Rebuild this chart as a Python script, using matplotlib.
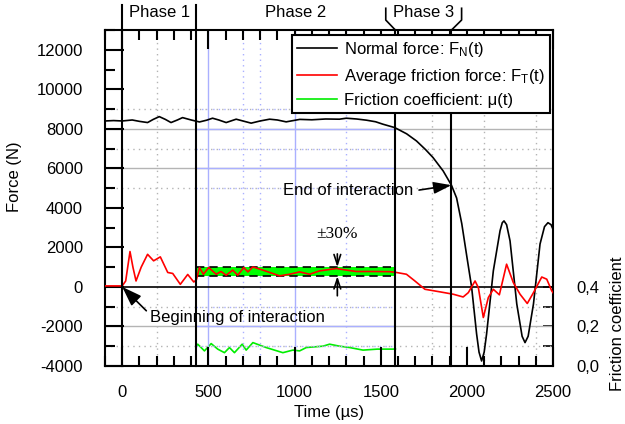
import matplotlib.pyplot as plt
import matplotlib.transforms as mtransforms
from matplotlib.ticker import MultipleLocator, FixedLocator, FuncFormatter

plt.rcParams['font.family'] = ['Liberation Sans', 'DejaVu Sans']
plt.rcParams['font.size'] = 12
plt.rcParams['mathtext.default'] = 'regular'
plt.rcParams['axes.unicode_minus'] = False

# ---- data ----
t_normal = [-100, -50, 0, 58, 100, 147, 180, 215, 250, 283, 320, 350, 400, 448, 490, 524, 560, 603,
            661, 700, 748, 800, 855, 900, 951, 1030, 1100, 1180, 1260, 1300, 1360, 1417, 1470,
            1513, 1581, 1650, 1707, 1760, 1803, 1862, 1910, 1940, 1970, 2000, 2027, 2056, 2070,
            2085, 2100, 2114, 2153, 2192, 2205, 2215, 2230, 2250, 2289, 2320, 2337, 2355, 2386,
            2424, 2450, 2470, 2488, 2500]
f_normal = [8400, 8420, 8400, 8450, 8380, 8320, 8480, 8620, 8480, 8320, 8450, 8570, 8450, 8350, 8440,
            8540, 8450, 8320, 8490, 8400, 8290, 8400, 8490, 8450, 8355, 8480, 8460, 8500, 8490,
            8540, 8500, 8440, 8360, 8235, 8065, 7750, 7390, 6950, 6550, 5870, 5150, 4500, 3200,
            1500, 0, -2380, -3300, -3750, -3300, -2380, 810, 2840, 3250, 3340, 3150, 2330, -860,
            -2500, -2820, -2500, -860, 2170, 3050, 3250, 3150, 2900]

t_fric = [-100, 0, 20, 45, 62, 80, 110, 147, 182, 221, 264, 293, 337, 380, 415, 430, 448, 471, 502,
          545, 573, 603, 641, 670, 705, 729, 758, 816, 913, 971, 1029, 1087, 1145, 1242, 1300, 1358,
          1450, 1552, 1591, 1649, 1698, 1756, 1843, 1920, 1978, 2008, 2047, 2066, 2095, 2124, 2153,
          2188, 2230, 2269, 2308, 2350, 2386, 2434, 2463, 2492, 2500]
f_fric = [50, 50, 300, 1790, 1000, 300, 1000, 1650, 1320, 1520, 730, 680, 130, 630, 250, 350, 980,
          640, 980, 640, 780, 590, 850, 590, 980, 760, 1010, 850, 560, 640, 760, 640, 810, 930, 850,
          780, 780, 771, 730, 640, 300, -120, -250, -370, -510, -290, 300, -30, -1550, -540, -120,
          -400, 1150, 220, -370, -840, -290, 500, 390, -200, -300]

t_mu = [430, 438, 477, 516, 554, 593, 622, 651, 696, 719, 758, 835, 932, 990, 1029, 1068, 1165,
        1203, 1260, 1320, 1397, 1480, 1571, 1585]
mu = [0.10, 0.11, 0.076, 0.113, 0.085, 0.067, 0.093, 0.067, 0.11, 0.08, 0.118, 0.093, 0.067, 0.08,
      0.076, 0.093, 0.10, 0.11, 0.10, 0.093, 0.08, 0.085, 0.085, 0.086]

band_mean = 770
band_tol = 0.30
band_t = [430, 1585]
phase_t = [0, 430, 1585, 1910]
phase_names = ['Phase 1', 'Phase 2', 'Phase 3']

fig = plt.figure(figsize=(6.25, 4.24), dpi=100)
ax = fig.add_axes([0.168, 0.137, 0.717, 0.792])
ax.set_xlim(-100, 2500)
ax.set_ylim(-4000, 13000)

# grid (grey outside phase 2, bluish inside)
grey = '#b4b4b4'
blue = '#aab0ff'
for y in [8000, 6000, -2000]:
    ax.axhline(y, color=grey, lw=1, zorder=0)
    ax.hlines(y, band_t[0], band_t[1], color=blue, lw=1, zorder=0.5)
for y in [9000, 7000, 5000, -1000, -3000]:
    ax.axhline(y, color=grey, lw=1, ls=(0, (1, 3)), zorder=0)
    ax.hlines(y, band_t[0], band_t[1], color=blue, lw=1, ls=(0, (1, 3)), zorder=0.5)
for x in [200, 1800, 2100, 2400]:
    ax.axvline(x, color=grey, lw=1, ls=(0, (1, 3)), zorder=0)
for x in [500, 1000]:
    ax.axvline(x, color=blue, lw=1, zorder=0)
for x in [700, 800, 1300]:
    ax.axvline(x, color=blue, lw=1, ls=(0, (1, 3)), zorder=0)

ax.axhline(0, color='black', lw=1.2, zorder=1)

# +-30% band
lo = band_mean * (1 - band_tol)
hi = band_mean * (1 + band_tol)
ax.fill_between(band_t, [lo, lo], [hi, hi], color='#00ff00', lw=0, zorder=1.5)
ax.hlines([lo, hi], band_t[0], band_t[1], colors='black', lw=1.2, linestyles=(0, (5, 3)), zorder=1.6)

l1, = ax.plot(t_normal, f_normal, color='black', lw=1.2, zorder=3, label='Normal force: F$_{N}$(t)')
l2, = ax.plot(t_fric, f_fric, color='red', lw=1.2, zorder=3, label='Average friction force: F$_{T}$(t)')

# friction coefficient on the right axis
ax2 = ax.twinx()
ax2.set_ylim(0, 1.7)
l3, = ax2.plot(t_mu, mu, color='#00ee00', lw=1.2, label='Friction coefficient: \u03bc(t)')
ax2.yaxis.set_major_locator(FixedLocator([0, 0.2, 0.4]))
ax2.yaxis.set_minor_locator(FixedLocator([0.1, 0.3]))
ax2.yaxis.set_major_formatter(FuncFormatter(lambda v, p: f'{v:.1f}'.replace('.', ',')))
ax2.tick_params(axis='y', which='both', direction='in', length=7, width=1.2, pad=17)
ax2.set_ylabel('Friction coefficient')
ax2.yaxis.set_label_coords(1.127, 0.125)
for s in ax2.spines.values():
    s.set_visible(False)

# phase lines and brackets
trans = mtransforms.blended_transform_factory(ax.transData, ax.transAxes)
for i, x in enumerate(phase_t):
    top = 1.074 if i < 2 else 1.0
    ax.plot([x, x], [0, top], color='black', lw=1.5, transform=trans, clip_on=False, zorder=4)
ax.plot([1529, 1529, phase_t[2]], [1.065, 1.03, 1.0], color='black', lw=1.2,
        transform=trans, clip_on=False)
ax.plot([1969, 1969, phase_t[3]], [1.065, 1.03, 1.0], color='black', lw=1.2,
        transform=trans, clip_on=False)
for i, name in enumerate(phase_names):
    xc = (phase_t[i] + phase_t[i + 1]) / 2
    ax.text(xc, 1.052, name, transform=trans, ha='center', va='center')

# annotations
ax.annotate('End of interaction', xy=(1910, 5150), xytext=(1690, 4860), ha='right', va='center',
            arrowprops=dict(arrowstyle='-|>,head_length=0.9,head_width=0.3', color='black',
                            lw=1.2, shrinkA=2, shrinkB=0, relpos=(1, 0.5)), zorder=5)
ax.annotate('Beginning of interaction', xy=(0, 0), xytext=(160, -1550), ha='left', va='center',
            arrowprops=dict(arrowstyle='-|>,head_length=1.0,head_width=0.35', color='black',
                            lw=1.2, shrinkA=0, shrinkB=0, relpos=(-0.02, 0.95)), zorder=5)
ax.annotate('', xy=(1248, hi), xytext=(1248, 1670),
            arrowprops=dict(arrowstyle='->,head_length=0.6,head_width=0.2', color='black', lw=1.2,
                            shrinkA=0, shrinkB=0), zorder=5)
ax.annotate('', xy=(1248, lo), xytext=(1248, -450),
            arrowprops=dict(arrowstyle='->,head_length=0.6,head_width=0.2', color='black', lw=1.2,
                            shrinkA=0, shrinkB=0), zorder=5)
ax.text(1248, 2700, '\u00b130%', family=['Liberation Serif', 'DejaVu Serif'], ha='center',
        va='center', fontsize=12.5)

# axes styling
ax.xaxis.set_major_locator(MultipleLocator(500))
ax.xaxis.set_minor_locator(MultipleLocator(100))
ax.yaxis.set_major_locator(MultipleLocator(2000))
ax.yaxis.set_minor_locator(MultipleLocator(1000))
ax.tick_params(which='major', direction='in', length=14, width=1.5, top=True, right=False)
ax.tick_params(which='minor', direction='in', length=7.5, width=1.5, top=True, right=False)
ax.tick_params(axis='y', which='major', pad=16)
ax.tick_params(axis='x', which='major', pad=14)
for s in ax.spines.values():
    s.set_linewidth(1.5)
ax.set_xlabel('Time (\u00b5s)', labelpad=3)
ax.set_ylabel('Force (N)')
ax.yaxis.set_label_coords(-0.185, 0.564)

leg = ax.legend(handles=[l1, l2, l3], loc='upper right', bbox_to_anchor=(0.993, 0.985),
                fancybox=False, framealpha=1, edgecolor='black', borderpad=0.3, borderaxespad=0,
                handlelength=2.4, handletextpad=0.4, labelspacing=0.45, fontsize=12)
leg.get_frame().set_linewidth(1.5)
leg.set_zorder(6)
ax.set_zorder(ax2.get_zorder() + 1)
ax.patch.set_visible(False)

fig.savefig('out.png', dpi=100)
